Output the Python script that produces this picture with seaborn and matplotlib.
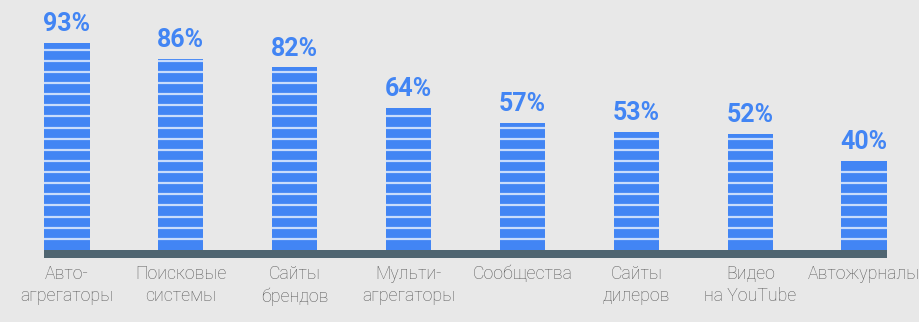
import matplotlib
matplotlib.use("Agg")
import matplotlib.pyplot as plt
import seaborn as sns
import pandas as pd
import numpy as np

categories = ["Авто-\nагрегаторы", "Поисковые\nсистемы", "Сайты\nбрендов", "Мульти-\nагрегаторы",
              "Сообщества", "Сайты\nдилеров", "Видео\nна YouTube", "Автожурналы"]
values = [93, 86, 82, 64, 57, 53, 52, 40]
value_labels = ["93%", "86%", "82%", "64%", "57%", "53%", "52%", "40%"]
stripe_step = 5

BG = "#e8e8e8"
BLUE = "#4285f4"
STRIPE = "#c9dcfb"
BASE = "#4f6571"
TEXT = "#595959"

sns.set_theme(style="white")
plt.rcParams["font.family"] = ["Roboto", "DejaVu Sans"]

df = pd.DataFrame({"cat": categories, "val": values})

fig = plt.figure(figsize=(9.2, 3.22), dpi=100, facecolor=BG)
ax = fig.add_axes([44 / 920, 64 / 322, 843 / 920, 241.7 / 322])
ax.set_facecolor(BG)

sns.barplot(data=df, x="cat", y="val", color=BLUE, width=0.4, saturation=1, ax=ax, zorder=2)

ax.set_xlim(-0.2, len(categories) - 1 + 0.2)
ax.set_ylim(-3.6, 105)

# stripes within each bar
for p, v in zip(ax.patches, values):
    p.set_edgecolor("none")
    x0 = p.get_x()
    x1 = x0 + p.get_width()
    ys = np.arange(stripe_step, v, stripe_step)
    ax.hlines(ys, x0, x1, colors=STRIPE, linewidth=1.6, zorder=3)

for p, lab in zip(ax.patches, value_labels):
    cx = p.get_x() + p.get_width() / 2
    ax.annotate(lab, (cx, p.get_height()), xytext=(0, 5), textcoords="offset points",
                ha="center", va="bottom", color=BLUE, fontsize=18, fontweight="bold",
                annotation_clip=False)

# baseline band
ax.axhspan(-3.6, 0, color=BASE, zorder=4, lw=0)

for s in ax.spines.values():
    s.set_visible(False)
ax.set_yticks([])
ax.set_xlabel("")
ax.set_ylabel("")
ax.tick_params(axis="x", length=0, pad=5)
ax.set_xticks(range(len(categories)))
ax.set_xticklabels(categories, fontsize=12.8, color=TEXT, fontweight="light", linespacing=1.3)

fig.savefig("out.png", dpi=100, facecolor=BG)
